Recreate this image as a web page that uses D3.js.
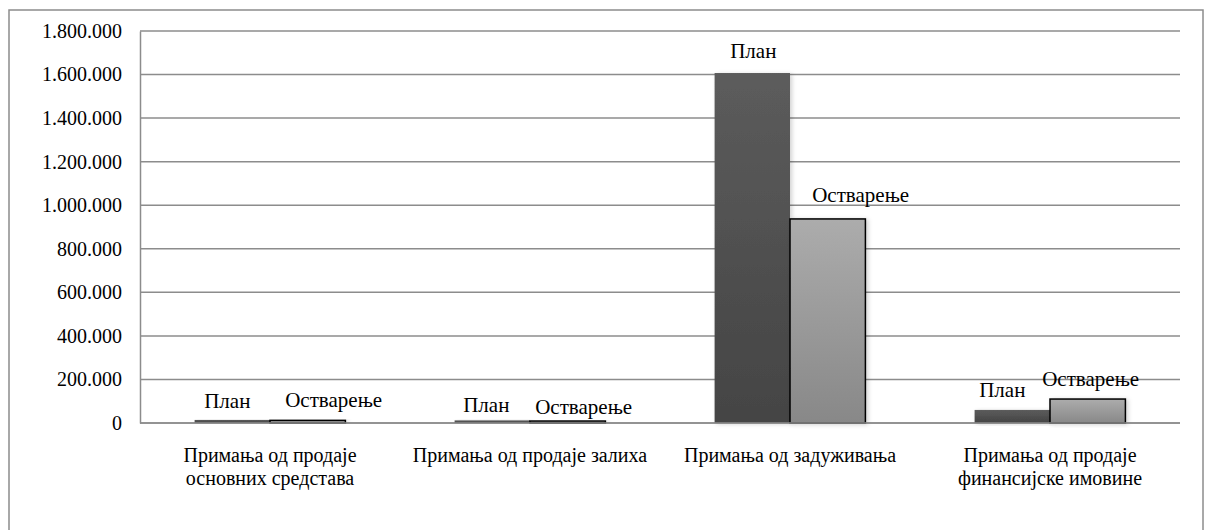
<!DOCTYPE html>
<html>
<head>
<meta charset="utf-8">
<script src="https://cdn.jsdelivr.net/npm/d3@7"></script>
<style>
  body { margin: 0; background: #fff; }
</style>
</head>
<body>
<div class="graphic"></div>
<script>
// chart data
const categories = [
  "Примања од продаје\nосновних средстава",
  "Примања од продаје залиха",
  "Примања од задуживања",
  "Примања од продаје\nфинансијске имовине"
]
const series = ["План", "Остварење"]
const plan = [14000, 12000, 1607000, 60000]
const ostvarenje = [12000, 9000, 937000, 110000]
const yTicks = [0, 200000, 400000, 600000, 800000, 1000000, 1200000, 1400000, 1600000, 1800000]

// label nudges (the labels were moved by hand in the original)
const labelDx = [[-5, -6, 1, -10], [26, 16, 33, 3]]
const labelDy = [[-12, -8, -15, -13], [-13, -7, -17, -13]]

const FONT = "Liberation Serif"
const FS = 20
const W = 1211, H = 530
const margin = { left: 140, right: 31, top: 31, bottom: 107 }

const svg = d3.select(".graphic")
  .append("svg")
  .attr("width", W)
  .attr("height", H)
  .attr("font-family", FONT)

const defs = svg.append("defs")
const gradPlan = defs.append("linearGradient").attr("id", "gPlan")
  .attr("x1", 0).attr("y1", 0).attr("x2", 0).attr("y2", 1)
gradPlan.append("stop").attr("offset", "0%").attr("stop-color", "#5c5c5c")
gradPlan.append("stop").attr("offset", "100%").attr("stop-color", "#444444")
const gradOst = defs.append("linearGradient").attr("id", "gOst")
  .attr("x1", 0).attr("y1", 0).attr("x2", 0).attr("y2", 1)
gradOst.append("stop").attr("offset", "0%").attr("stop-color", "#acacac")
gradOst.append("stop").attr("offset", "100%").attr("stop-color", "#888888")
const shadow = defs.append("filter").attr("id", "shadow")
  .attr("x", "-20%").attr("y", "-20%").attr("width", "140%").attr("height", "140%")
shadow.append("feDropShadow")
  .attr("dx", 2).attr("dy", 1).attr("stdDeviation", 2)
  .attr("flood-color", "#000").attr("flood-opacity", 0.18)

// outer frame
svg.append("rect")
  .attr("x", 9).attr("y", 10)
  .attr("width", 1194).attr("height", 560)
  .attr("fill", "none")
  .attr("stroke", "#8c8c8c")
  .attr("stroke-width", 1.5)

const xScale = d3.scaleBand()
  .domain(categories)
  .range([margin.left, W - margin.right])
  .paddingInner(0.42)
  .paddingOuter(0.21)

const xSub = d3.scaleBand()
  .domain(series)
  .range([0, xScale.bandwidth()])

const yScale = d3.scaleLinear()
  .domain([0, 1800000])
  .range([H - margin.bottom, margin.top])

const fmt = d3.formatLocale({ decimal: ",", thousands: ".", grouping: [3], currency: ["", ""] }).format(",")

// gridlines
svg.append("g")
  .selectAll("line")
  .data(yTicks)
  .join("line")
    .attr("x1", margin.left)
    .attr("x2", W - margin.right)
    .attr("y1", d => yScale(d))
    .attr("y2", d => yScale(d))
    .attr("stroke", "#8c8c8c")
    .attr("stroke-width", 1.5)

// y axis
const yAxis = svg.append("g")
  .attr("transform", `translate(${margin.left},0)`)
  .call(d3.axisLeft(yScale).tickValues(yTicks).tickFormat(fmt).tickSize(0).tickPadding(18))
yAxis.attr("font-family", FONT).attr("font-size", FS)
yAxis.select(".domain").attr("stroke", "#8c8c8c").attr("stroke-width", 1.5)
yAxis.selectAll("text")
  .attr("font-family", FONT)
  .attr("font-size", FS)
  .attr("fill", "#000")

// bars
const rows = categories.map((c, i) => ({ cat: c, i, vals: [plan[i], ostvarenje[i]] }))

const group = svg.append("g")
  .selectAll("g")
  .data(rows)
  .join("g")
    .attr("transform", d => `translate(${xScale(d.cat)},0)`)

group.selectAll("rect")
  .data(d => d.vals.map((v, s) => ({ v, s, i: d.i })))
  .join("rect")
    .attr("x", d => xSub(series[d.s]))
    .attr("y", d => yScale(d.v))
    .attr("width", xSub.bandwidth())
    .attr("height", d => yScale(0) - yScale(d.v))
    .attr("fill", d => d.s === 0 ? "url(#gPlan)" : "url(#gOst)")
    .attr("stroke", d => d.s === 0 ? "none" : "#000")
    .attr("stroke-width", 1.5)
    .attr("filter", "url(#shadow)")

group.selectAll("text.lbl")
  .data(d => d.vals.map((v, s) => ({ v, s, i: d.i })))
  .join("text")
    .attr("class", "lbl")
    .attr("x", d => xSub(series[d.s]) + xSub.bandwidth() / 2 + labelDx[d.s][d.i])
    .attr("y", d => yScale(d.v) + labelDy[d.s][d.i])
    .attr("text-anchor", "middle")
    .attr("font-family", FONT)
    .attr("font-size", 21)
    .text(d => series[d.s])

// zero line on top
svg.append("line")
  .attr("x1", margin.left).attr("x2", W - margin.right)
  .attr("y1", yScale(0)).attr("y2", yScale(0))
  .attr("stroke", "#8c8c8c").attr("stroke-width", 1.5)

// category labels
const catText = svg.append("g")
  .selectAll("text")
  .data(categories)
  .join("text")
    .attr("x", d => xScale(d) + xScale.bandwidth() / 2)
    .attr("y", yScale(0) + 39)
    .attr("text-anchor", "middle")
    .attr("font-family", FONT)
    .attr("font-size", FS)

catText.selectAll("tspan")
  .data(d => d.split("\n"))
  .join("tspan")
    .attr("x", function () { return d3.select(this.parentNode).attr("x") })
    .attr("dy", (d, i) => i === 0 ? 0 : 23)
    .text(d => d)
</script>
</body>
</html>
